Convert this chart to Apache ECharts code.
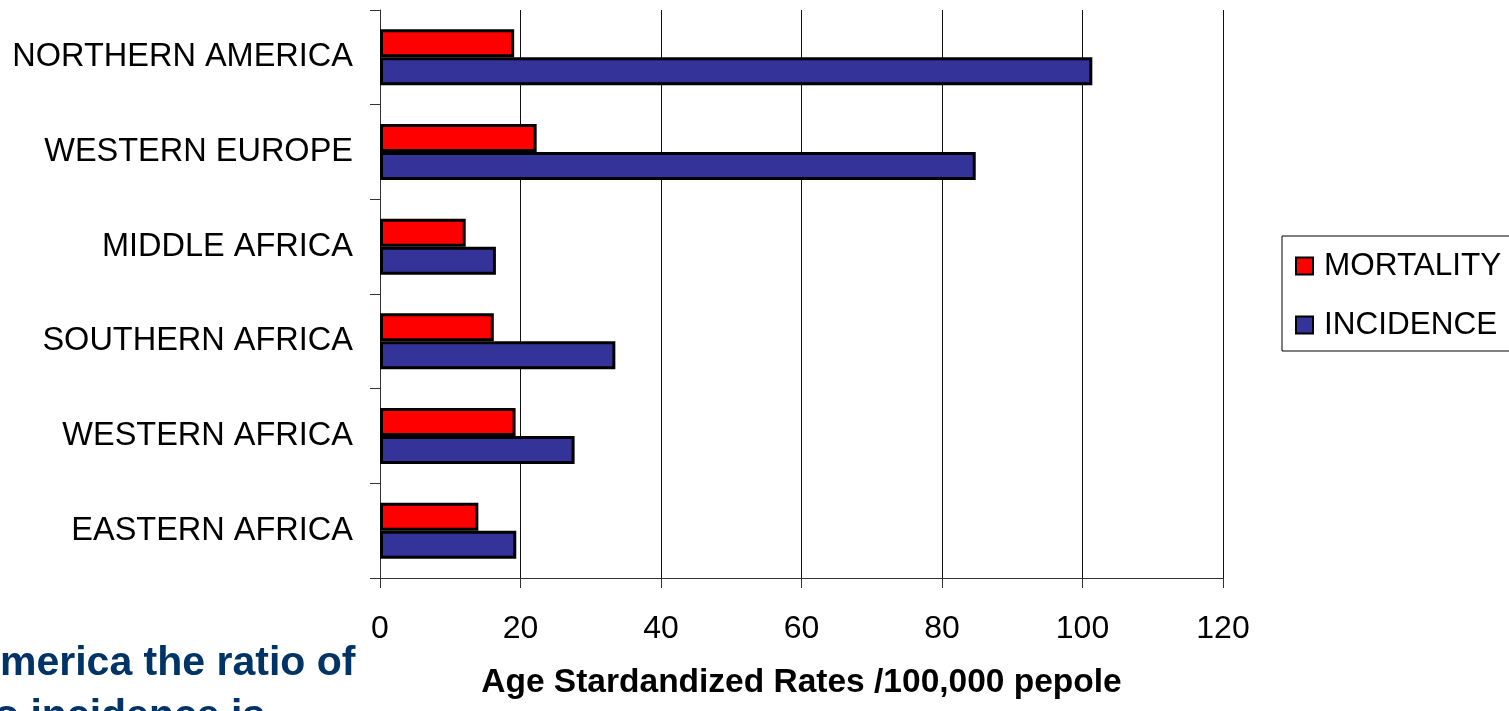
<!DOCTYPE html>
<html>
<head>
<meta charset="utf-8">
<script src="https://cdn.jsdelivr.net/npm/echarts@6/dist/echarts.min.js"></script>
<style>
html,body{margin:0;padding:0;background:#fff;}
#chart{width:1509px;height:711px;}
</style>
</head>
<body>
<div id="chart"></div>
<script>
// Categories listed bottom-up (category axis runs upward)
const categories = ['EASTERN AFRICA', 'WESTERN AFRICA', 'SOUTHERN AFRICA', 'MIDDLE AFRICA', 'WESTERN EUROPE', 'NORTHERN AMERICA'];
const mortality = [14.0, 19.3, 16.2, 12.2, 22.3, 19.1];
const incidence = [19.4, 27.7, 33.5, 16.5, 84.8, 101.4];
const xTicks = { min: 0, max: 120, interval: 20 };
const axisTitle = 'Age Stardandized Rates /100,000 pepole';
const noteLine1 = 'merica the ratio of';
const noteLine2 = 'o incidence is';

const FONT = "'Liberation Sans', Arial, sans-serif";
const chart = echarts.init(document.getElementById('chart'));
chart.setOption({
  animation: false,
  backgroundColor: '#fff',
  grid: { left: 380, right: 286, top: 10, bottom: 133, containLabel: false },
  legend: {
    orient: 'vertical',
    left: 1282, top: 236,
    data: ['MORTALITY', 'INCIDENCE'],
    itemWidth: 17, itemHeight: 17, itemGap: 27,
    padding: [14, 16, 10, 13],
    borderColor: '#000', borderWidth: 1,
    icon: 'rect',
    textStyle: { fontFamily: FONT, fontSize: 31.5, color: '#000', padding: [0, 0, 0, 6] }
  },
  xAxis: {
    type: 'value',
    min: xTicks.min, max: xTicks.max, interval: xTicks.interval,
    name: axisTitle,
    nameLocation: 'middle',
    nameGap: 88,
    nameTextStyle: { fontFamily: FONT, fontSize: 33.5, fontWeight: 'bold', color: '#000' },
    axisLine: { show: true, lineStyle: { color: '#333', width: 1 } },
    axisTick: { show: true, length: 10, lineStyle: { color: '#333' } },
    axisLabel: { fontFamily: FONT, fontSize: 32, color: '#000', margin: 35 },
    splitLine: { show: true, lineStyle: { color: '#111', width: 1 } }
  },
  yAxis: {
    type: 'category',
    data: categories,
    boundaryGap: true,
    axisLine: { show: true, lineStyle: { color: '#333', width: 1 } },
    axisTick: { show: true, length: 10, alignWithLabel: false, lineStyle: { color: '#333' } },
    axisLabel: { fontFamily: FONT, fontSize: 32.5, color: '#000', margin: 27 },
    splitLine: { show: false }
  },
  series: [
    {
      name: 'MORTALITY', type: 'bar', data: mortality,
      barWidth: 28, barGap: '0%',
      itemStyle: { color: '#FF0000', borderColor: '#000', borderWidth: 3 }
    },
    {
      name: 'INCIDENCE', type: 'bar', data: incidence,
      barWidth: 28, barGap: '0%',
      itemStyle: { color: '#333399', borderColor: '#000', borderWidth: 3 }
    }
  ],
  graphic: [
    { type: 'text', left: 0, top: 643, style: { text: noteLine1, font: "bold 41px " + FONT, fill: '#003366' } },
    { type: 'text', x: -6, y: 696, style: { text: noteLine2, font: "bold 41px " + FONT, fill: '#003366' } }
  ]
});
</script>
</body>
</html>
